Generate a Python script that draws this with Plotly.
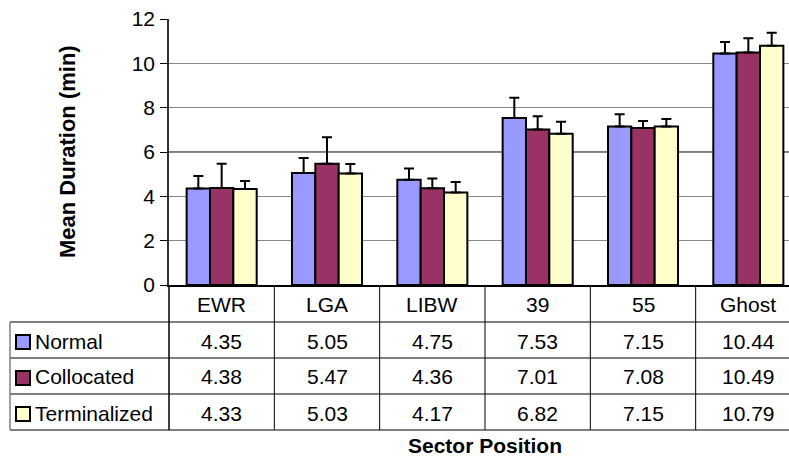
import plotly.graph_objects as go

categories = ["EWR", "LGA", "LIBW", "39", "55", "Ghost"]
series_names = ["Normal", "Collocated", "Terminalized"]
normal = [4.35, 5.05, 4.75, 7.53, 7.15, 10.44]
collocated = [4.38, 5.47, 4.36, 7.01, 7.08, 10.49]
terminalized = [4.33, 5.03, 4.17, 6.82, 7.15, 10.79]
normal_err = [0.57, 0.68, 0.51, 0.92, 0.55, 0.52]
collocated_err = [1.09, 1.19, 0.45, 0.60, 0.32, 0.64]
terminalized_err = [0.36, 0.43, 0.48, 0.55, 0.34, 0.59]
colors = ["#9999FF", "#993366", "#FFFFCC"]
y_ticks = [0, 2, 4, 6, 8, 10, 12]

values = [normal, collocated, terminalized]
errors = [normal_err, collocated_err, terminalized_err]

W, H = 789, 459
L, R, T, B = 169, 0, 19, 174
PW, PH = W - L - R, H - T - B
X0, X1 = -0.5, 5.5 - 12 / 105.3
FONT = "Arial, Liberation Sans, sans-serif"
FS = 21


def px2x(px):
    return (px - L) / PW


def px2y(py):
    return (H - B - py) / PH


def cat2x(v):
    return (v - X0) / (X1 - X0)


fig = go.Figure()
for name, vals, errs, col in zip(series_names, values, errors, colors):
    fig.add_trace(go.Bar(
        x=categories, y=vals, name=name,
        marker=dict(color=col, line=dict(color="black", width=2)),
        error_y=dict(type="data", symmetric=False, array=errs,
                     arrayminus=[0] * len(errs), color="black",
                     thickness=2, width=5),
    ))

shapes = []
shapes.append(dict(type="line", xref="paper", yref="y", x0=0, x1=1, y0=6, y1=6,
                   line=dict(color="black", width=1), layer="below"))

row_tops = [285, 322, 358, 394, 430]
tab_left = 10
for i, yp in enumerate(row_tops[1:]):
    col = "#808080" if i == 3 else "black"
    wid = 2 if i == 3 else 1
    shapes.append(dict(type="line", xref="paper", yref="paper",
                       x0=px2x(tab_left), x1=1, y0=px2y(yp), y1=px2y(yp),
                       line=dict(color=col, width=wid)))
shapes.append(dict(type="line", xref="paper", yref="paper",
                   x0=px2x(tab_left), x1=px2x(tab_left),
                   y0=px2y(row_tops[1]), y1=px2y(row_tops[4]),
                   line=dict(color="#808080", width=1.5)))
for k in range(len(categories)):
    xb = cat2x(k - 0.5)
    shapes.append(dict(type="line", xref="paper", yref="paper",
                       x0=xb, x1=xb, y0=px2y(row_tops[0]), y1=px2y(row_tops[4]),
                       line=dict(color="black", width=1.5 if k == 0 else 1)))

annotations = []
for k, c in enumerate(categories):
    annotations.append(dict(x=cat2x(k), xref="paper",
                            y=px2y((row_tops[0] + row_tops[1]) / 2 + 1),
                            yref="paper", text=c, showarrow=False,
                            font=dict(family=FONT, size=FS, color="black"),
                            xanchor="center", yanchor="middle"))
for r, (name, vals, col) in enumerate(zip(series_names, values, colors)):
    yc = (row_tops[r + 1] + row_tops[r + 2]) / 2
    for k, v in enumerate(vals):
        annotations.append(dict(x=cat2x(k), xref="paper", y=px2y(yc + 1), yref="paper",
                                text=f"{v:.2f}", showarrow=False,
                                font=dict(family=FONT, size=FS, color="black"),
                                xanchor="center", yanchor="middle"))
    annotations.append(dict(x=px2x(33), xref="paper", y=px2y(yc + 1), yref="paper",
                            text=name, showarrow=False,
                            font=dict(family=FONT, size=FS, color="black"),
                            xanchor="left", yanchor="middle"))
    shapes.append(dict(type="rect", xref="paper", yref="paper",
                       x0=px2x(16), x1=px2x(30), y0=px2y(yc - 5), y1=px2y(yc + 9),
                       fillcolor=col, line=dict(color="black", width=2)))

annotations.append(dict(x=px2x(67), xref="paper", y=px2y(152), yref="paper",
                        text="<b>Mean Duration (min)</b>", textangle=-90, showarrow=False,
                        font=dict(family=FONT, size=22, color="black"),
                        xanchor="center", yanchor="middle"))
annotations.append(dict(x=px2x(485), xref="paper", y=px2y(446), yref="paper",
                        text="<b>Sector Position</b>", showarrow=False,
                        font=dict(family=FONT, size=FS, color="black"),
                        xanchor="center", yanchor="middle"))

fig.update_layout(
    width=W, height=H,
    margin=dict(l=L, r=R, t=T, b=B, pad=0),
    paper_bgcolor="white", plot_bgcolor="white",
    barmode="group", bargap=0.335, bargroupgap=0,
    showlegend=False,
    font=dict(family=FONT, size=FS, color="black"),
    xaxis=dict(type="category", range=[X0, X1], showticklabels=False,
               showgrid=False, showline=True, linecolor="black", linewidth=1.5,
               ticks="", zeroline=False, fixedrange=True),
    yaxis=dict(range=[0, 12], tickvals=y_ticks, ticks="outside", ticklen=7,
               ticklabelstandoff=1,
               tickcolor="black", tickwidth=1, showline=True, linecolor="#333333",
               linewidth=1.5, showgrid=True, gridcolor="#8a8a8a", gridwidth=1,
               zeroline=False, tickfont=dict(family=FONT, size=FS, color="black"),
               fixedrange=True),
    shapes=shapes,
    annotations=annotations,
)

fig.write_html("out.html", config={"displayModeBar": False},
               post_script="document.body.style.margin='0';")
